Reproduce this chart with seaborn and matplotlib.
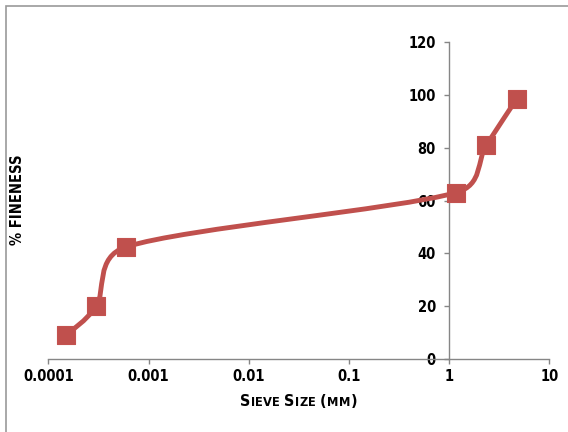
import numpy as np
import matplotlib
matplotlib.use("Agg")
import matplotlib.pyplot as plt
import seaborn as sns
import pandas as pd
from matplotlib.path import Path
from matplotlib.patches import PathPatch, Rectangle
from matplotlib.offsetbox import TextArea, HPacker, AnnotationBbox

# Particle size distribution
sieve_size_mm = [0.00015, 0.0003, 0.0006, 1.18, 2.36, 4.75]
percent_finer = [9, 20, 42.5, 63, 81, 98.5]

x_ticks = [0.0001, 0.001, 0.01, 0.1, 1, 10]
x_tick_labels = ["0.0001", "0.001", "0.01", "0.1", "1", "10"]
y_ticks = [0, 20, 40, 60, 80, 100, 120]

RED = "#C0504D"
AXIS_GRAY = "#868686"
FONT = ["DejaVu Sans"]
STRETCH = "condensed"

sns.set_theme(style="white")
plt.rcParams["font.family"] = FONT
plt.rcParams["font.weight"] = "bold"
plt.rcParams["font.stretch"] = STRETCH
plt.rcParams["text.color"] = "black"

W, H = 568, 432
fig = plt.figure(figsize=(W / 100, H / 100), dpi=100)
ax = fig.add_axes([48.3 / W, 1 - 359.3 / H, 501 / W, 317.6 / H])
ax.set_xscale("log")
ax.set_xlim(1e-4, 10)
ax.set_ylim(0, 120)


def smooth_path(ax, xs, ys):
    """Bezier path through the points, with handles along the neighbour chord
    (1/6 of it), capped at half the segment length, computed in screen space."""
    pts = ax.transData.transform(np.column_stack([xs, ys]))
    n = len(pts)
    verts = [pts[0]]
    codes = [Path.MOVETO]
    for i in range(n - 1):
        p0 = pts[max(i - 1, 0)]
        p1 = pts[i]
        p2 = pts[i + 1]
        p3 = pts[min(i + 2, n - 1)]
        seg = np.hypot(*(p2 - p1))
        h1 = (p2 - p0) / 6.0
        h2 = (p3 - p1) / 6.0
        l1, l2 = np.hypot(*h1), np.hypot(*h2)
        if l1 > seg / 2:
            h1 = h1 * (seg / 2) / l1
        if l2 > seg / 2:
            h2 = h2 * (seg / 2) / l2
        verts += [p1 + h1, p2 - h2, p2]
        codes += [Path.CURVE4] * 3
    data = ax.transData.inverted().transform(np.array(verts))
    return Path(data, codes)


ax.add_patch(PathPatch(smooth_path(ax, sieve_size_mm, percent_finer),
                       facecolor="none", edgecolor=RED, lw=3.5,
                       capstyle="round", joinstyle="round", zorder=2))

df = pd.DataFrame({"size": sieve_size_mm, "finer": percent_finer})
sns.scatterplot(data=df, x="size", y="finer", marker="s", s=13.2 ** 2,
                color=RED, edgecolor="#C4524F", linewidth=0.8, zorder=3,
                ax=ax, legend=False, clip_on=False)

ax.set_xlim(1e-4, 10)
ax.set_ylim(0, 120)

# Axes: vertical axis crosses at x = 1
for side in ("top", "right"):
    ax.spines[side].set_visible(False)
ax.spines["left"].set_position(("data", 1))
for side in ("left", "bottom"):
    ax.spines[side].set_color(AXIS_GRAY)
    ax.spines[side].set_linewidth(1.0)

ax.set_xticks(x_ticks)
ax.set_xticklabels(x_tick_labels)
ax.xaxis.set_minor_locator(matplotlib.ticker.NullLocator())
ax.set_yticks(y_ticks)
ax.set_yticklabels([str(v) for v in y_ticks])
ax.tick_params(axis="both", which="major", direction="out", length=3.6,
               width=1.0, color=AXIS_GRAY, labelcolor="black", labelsize=10.5,
               left=True, bottom=True)
ax.tick_params(axis="x", pad=3.5)
ax.tick_params(axis="y", pad=6.0)
for lab in ax.get_xticklabels() + ax.get_yticklabels():
    lab.set_fontweight("bold")
    lab.set_fontstretch(STRETCH)
ax.set_xlabel("")
ax.set_ylabel("")
ax.set_facecolor("white")

# Y title
fig.text(17.5 / W, 1 - 200 / H, "% FINENESS", rotation=90, ha="center",
         va="center", fontsize=10.5, fontweight="bold", family=FONT,
         fontstretch=STRETCH, color="black")


# X title in small capitals
def small_caps(text, big, small):
    props_big = dict(size=big, weight="bold", family=FONT, stretch=STRETCH,
                     color="black")
    props_small = dict(size=small, weight="bold", family=FONT, stretch=STRETCH,
                       color="black")
    parts = []
    for word_i, word in enumerate(text.split(" ")):
        if word_i:
            parts.append(TextArea(" ", textprops=props_small))
        for ch in word:
            if ch.islower():
                parts.append(TextArea(ch.upper(), textprops=props_small))
            else:
                parts.append(TextArea(ch, textprops=props_big))
    return HPacker(children=parts, align="baseline", pad=0, sep=0.2)


ab = AnnotationBbox(small_caps("Sieve Size (mm)", 11.5, 9.2),
                    (298.5 / W, 1 - 402 / H), xycoords="figure fraction",
                    frameon=False, box_alignment=(0.5, 0.5), pad=0)
fig.add_artist(ab)

# Chart area border
fig.patches.append(Rectangle((6 / W, -0.1), 1.2, 1.1 - 6 / H,
                             transform=fig.transFigure, fill=False,
                             edgecolor="#9A9A9A", lw=1.2, zorder=0))

fig.savefig("out.png", dpi=100, facecolor="white")
